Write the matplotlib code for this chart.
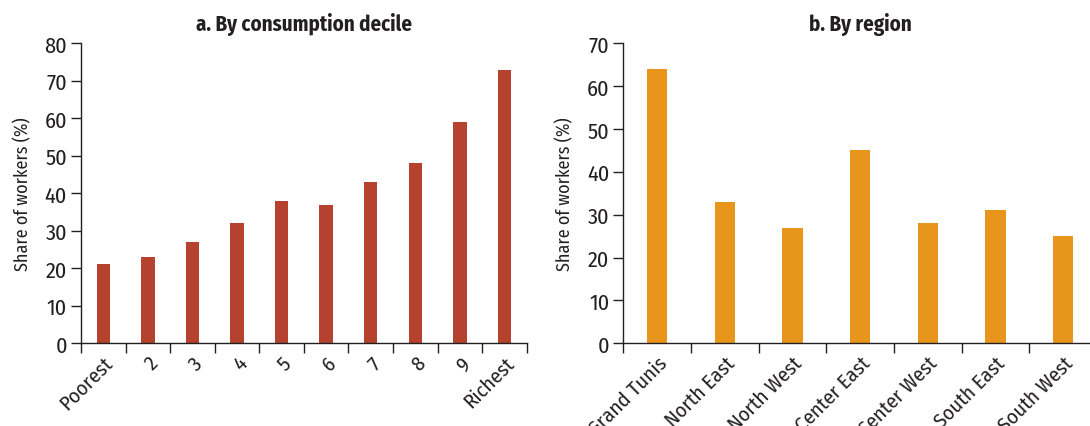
import matplotlib
matplotlib.use("Agg")
import matplotlib.pyplot as plt
import numpy as np

# data
deciles = ["Poorest", "2", "3", "4", "5", "6", "7", "8", "9", "Richest"]
decile_share = [21, 23, 27, 32, 38, 37, 43, 48, 59, 73]

regions = ["Grand Tunis", "North East", "North West", "Center East",
           "Center West", "South East", "South West"]
region_share = [64, 33, 27, 45, 28, 31, 25]

plt.rcParams["font.family"] = ["Fira Sans Condensed", "DejaVu Sans"]

ink = "#231f20"
red = "#b4422e"
orange = "#e8951c"

fig = plt.figure(figsize=(10.9, 4.27), dpi=100)
ax1 = fig.add_axes([0.0743, 0.194, 0.4089, 0.702])
ax2 = fig.add_axes([0.5717, 0.194, 0.4347, 0.702])


def panel(ax, cats, vals, color, title, ymax):
    n = len(cats)
    x = np.arange(n) + 0.5
    ax.bar(x, vals, width=0.3, color=color, edgecolor="none", zorder=2)
    ax.set_xlim(0, n)
    ax.set_ylim(0, ymax)
    ax.set_yticks(np.arange(0, ymax + 1, 10))
    ax.set_xticks(np.arange(n + 1))
    ax.set_xticklabels([])
    ax.set_xticks(x, minor=True)
    ax.set_xticklabels(cats, minor=True, rotation=45, ha="right", va="top",
                       rotation_mode="anchor", fontsize=15, color=ink)
    ax.tick_params(axis="x", which="minor", length=0, pad=7)
    ax.tick_params(axis="x", which="major", length=7, width=1, color=ink, direction="out")
    ax.tick_params(axis="y", length=7, width=1, color=ink, labelsize=16,
                   labelcolor=ink, pad=3)
    for s in ["top", "right"]:
        ax.spines[s].set_visible(False)
    for s in ["left", "bottom"]:
        ax.spines[s].set_color(ink)
        ax.spines[s].set_linewidth(1)
    ax.set_ylabel("Share of workers (%)", fontsize=13, color=ink, labelpad=9)
    ax.set_title(title, fontsize=15, fontweight="bold", color=ink, pad=10)


panel(ax1, deciles, decile_share, red, "a. By consumption decile", 80)
panel(ax2, regions, region_share, orange, "b. By region", 70)

fig.savefig("out.png", dpi=100)
